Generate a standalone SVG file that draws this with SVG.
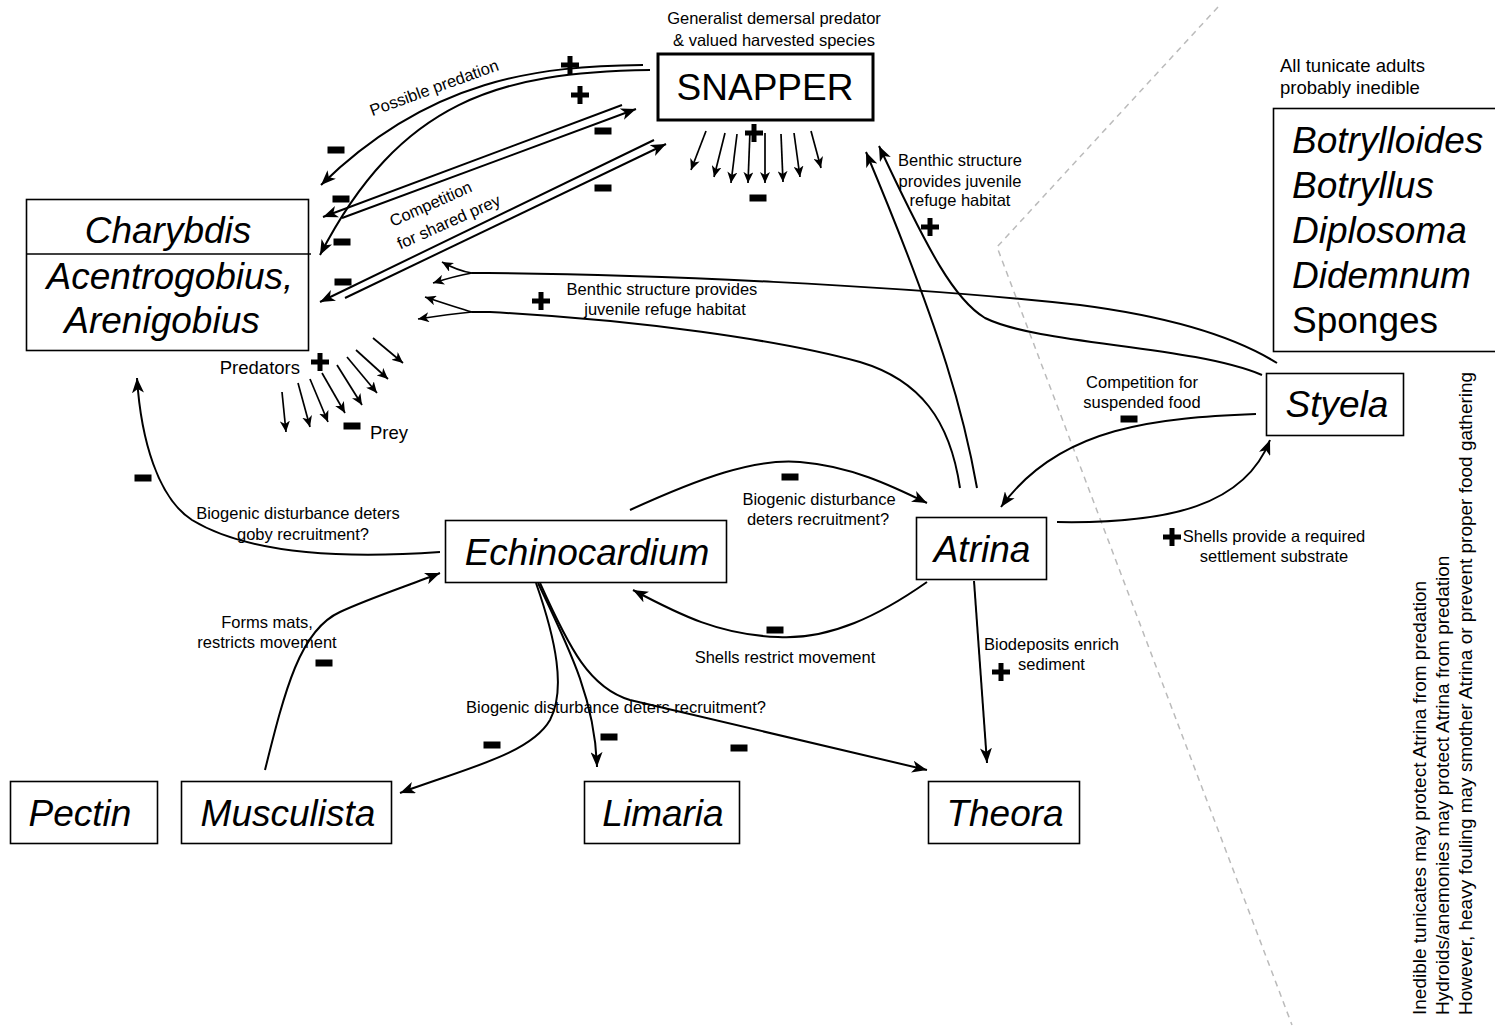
<svg xmlns="http://www.w3.org/2000/svg" xmlns:xlink="http://www.w3.org/1999/xlink" width="1495" height="1029" viewBox="0 0 1495 1029">
<style>
.box{fill:#fff;stroke:#000;stroke-width:1.6}
.big{font-family:"Liberation Sans",Arial,sans-serif;font-size:37px;fill:#000}
.it{font-style:italic}
.lbl{font-family:"Liberation Sans",Arial,sans-serif;font-size:16.5px;fill:#000}
.lbl2{font-family:"Liberation Sans",Arial,sans-serif;font-size:18.5px;fill:#000}
.vt{font-family:"Liberation Sans",Arial,sans-serif;font-size:19px;fill:#000}
.c{fill:none;stroke:#000;stroke-width:2}
.cs{fill:none;stroke:#000;stroke-width:1.7}
.a{marker-end:url(#ah)}
.as{marker-end:url(#ahs)}
.mid{text-anchor:middle}
</style>
<defs>
<marker id="ah" markerUnits="userSpaceOnUse" markerWidth="16" markerHeight="12" refX="15" refY="6" orient="auto"><path d="M0,0 L15,6 L0,12 L4,6 Z" fill="#000"/></marker>
<marker id="ahs" markerUnits="userSpaceOnUse" markerWidth="12" markerHeight="10" refX="11" refY="5" orient="auto"><path d="M0,0 L11,5 L0,10 L3,5 Z" fill="#000"/></marker>
<g id="plus"><rect x="-9" y="-2.5" width="18" height="5"/><rect x="-2.5" y="-9" width="5" height="18"/></g>
<rect id="minus" x="-8.5" y="-3.5" width="17" height="7"/>
</defs>
<rect width="1495" height="1029" fill="#fff"/>

<g id="divider">
<path d="M1218,7 L997,247 L1292,1025" fill="none" stroke="#bbb" stroke-width="1.5" stroke-dasharray="6,5"/>
</g>

<g id="connectors">
<path class="c a" d="M643,65 C540,66 430,78 321,185"/>
<path class="c a" d="M650,70 C500,72 400,100 320,255"/>
<path class="c a" d="M622,105 L323,217"/>
<path class="c a" d="M342,218 L636,109"/>
<path class="c a" d="M654,140 L320,302"/>
<path class="c a" d="M345,298 L666,144"/>
<g id="snapper-fan">
<path class="cs as" d="M706,131 L691,170"/>
<path class="cs as" d="M725,133 L714,177"/>
<path class="cs as" d="M737,134 L731,183"/>
<path class="cs as" d="M750,131 L748,183"/>
<path class="cs as" d="M765,133 L765,183"/>
<path class="cs as" d="M781,134 L783,182"/>
<path class="cs as" d="M794,133 L800,177"/>
<path class="cs as" d="M811,131 L821,168"/>
</g>
<g id="goby-fan">
<path class="cs as" d="M373,338 L403,363"/>
<path class="cs as" d="M356,350 L388,379"/>
<path class="cs as" d="M347,357 L377,393"/>
<path class="cs as" d="M337,365 L362,405"/>
<path class="cs as" d="M322,373 L345,413"/>
<path class="cs as" d="M310,379 L328,422"/>
<path class="cs as" d="M298,383 L310,427"/>
<path class="cs as" d="M282,392 L286,432"/>
</g>
<path class="c" d="M1277,363 C1240,340 1180,318 1080,305 C900,285 640,274 488,273 L472,273"/>
<path class="cs as" d="M472,273 Q458,271 442,262"/>
<path class="cs as" d="M472,273 Q455,276 433,283"/>
<path class="c" d="M960,488 C950,420 920,380 860,362 C780,340 640,320 490,312 L472,312"/>
<path class="cs as" d="M472,312 Q458,308 425,297"/>
<path class="cs as" d="M472,312 Q450,314 418,319"/>
<path class="c a" d="M977,488 C965,420 945,340 866,152"/>
<path class="c a" d="M1262,375 C1190,345 1040,345 985,318 C955,300 930,255 879,146"/>
<path class="c a" d="M630,510 C700,478 755,458 800,462 C850,466 890,485 927,503"/>
<path class="c a" d="M927,582 C880,615 830,640 778,637 C720,635 680,615 633,590"/>
<path class="c a" d="M440,552 C330,560 245,552 192,520 C158,498 141,440 137,378"/>
<path class="c a" d="M265,770 C285,690 300,630 340,612 C370,598 410,585 440,573"/>
<path class="c a" d="M536,583 C556,640 566,690 550,720 C530,755 460,770 400,793"/>
<path class="c a" d="M538,583 C570,650 595,700 597,767"/>
<path class="c a" d="M540,583 C570,650 590,688 630,700 L927,770"/>
<path class="c a" d="M974,581 L987,763"/>
<path class="c a" d="M1256,414 C1160,418 1060,425 1001,507"/>
<path class="c a" d="M1057,522 C1170,524 1245,505 1270,440"/>
</g>

<g id="signs">
<use xlink:href="#plus" x="570" y="65"/>
<use xlink:href="#plus" x="580" y="95"/>
<use xlink:href="#plus" x="754" y="133"/>
<use xlink:href="#plus" x="320" y="362"/>
<use xlink:href="#plus" x="541" y="301"/>
<use xlink:href="#plus" x="930" y="227"/>
<use xlink:href="#plus" x="1172" y="537"/>
<use xlink:href="#plus" x="1001" y="672"/>
<use xlink:href="#minus" x="336" y="150"/>
<use xlink:href="#minus" x="603" y="131"/>
<use xlink:href="#minus" x="341" y="199"/>
<use xlink:href="#minus" x="342" y="242"/>
<use xlink:href="#minus" x="603" y="188"/>
<use xlink:href="#minus" x="343" y="282"/>
<use xlink:href="#minus" x="758" y="198"/>
<use xlink:href="#minus" x="352" y="426"/>
<use xlink:href="#minus" x="143" y="478"/>
<use xlink:href="#minus" x="790" y="477"/>
<use xlink:href="#minus" x="775" y="630"/>
<use xlink:href="#minus" x="324" y="663"/>
<use xlink:href="#minus" x="492" y="745"/>
<use xlink:href="#minus" x="609" y="737"/>
<use xlink:href="#minus" x="739" y="748"/>
<use xlink:href="#minus" x="1129" y="419"/>
</g>

<g id="labels">
<text class="lbl mid" x="774" y="24">Generalist demersal predator</text>
<text class="lbl mid" x="774" y="46">&amp; valued harvested species</text>
<text class="lbl mid" x="436" y="93" transform="rotate(-20 436 93)">Possible predation</text>
<text class="lbl mid" x="433" y="209" transform="rotate(-24 433 209)">Competition</text>
<text class="lbl mid" x="451" y="227" transform="rotate(-24 451 227)">for shared prey</text>
<text class="lbl mid" x="662" y="295">Benthic structure provides</text>
<text class="lbl mid" x="665" y="315">juvenile refuge habitat</text>
<text class="lbl mid" x="960" y="166">Benthic structure</text>
<text class="lbl mid" x="960" y="187">provides juvenile</text>
<text class="lbl mid" x="960" y="206">refuge habitat</text>
<text class="lbl2" x="300" y="374" text-anchor="end">Predators</text>
<text class="lbl2" x="370" y="439">Prey</text>
<text class="lbl mid" x="1142" y="388">Competition for</text>
<text class="lbl mid" x="1142" y="408">suspended food</text>
<text class="lbl mid" x="1274" y="542">Shells provide a required</text>
<text class="lbl mid" x="1274" y="562">settlement substrate</text>
<text class="lbl mid" x="819" y="505">Biogenic disturbance</text>
<text class="lbl mid" x="818" y="525">deters recruitment?</text>
<text class="lbl mid" x="298" y="519">Biogenic disturbance deters</text>
<text class="lbl mid" x="303" y="540">goby recruitment?</text>
<text class="lbl mid" x="785" y="663">Shells restrict movement</text>
<text class="lbl mid" x="267" y="628">Forms mats,</text>
<text class="lbl mid" x="267" y="648">restricts movement</text>
<text class="lbl mid" x="616" y="713">Biogenic disturbance deters recruitment?</text>
<text class="lbl" x="984" y="650">Biodeposits enrich</text>
<text class="lbl" x="1018" y="670">sediment</text>
<text class="lbl2" x="1280" y="72">All tunicate adults</text>
<text class="lbl2" x="1280" y="94">probably inedible</text>
<text class="vt" transform="translate(1426,1015) rotate(-90)">Inedible tunicates may protect Atrina from predation</text>
<text class="vt" transform="translate(1449,1015) rotate(-90)">Hydroids/anemonies may protect Atrina from predation</text>
<text class="vt" transform="translate(1472,1015) rotate(-90)">However, heavy fouling may smother Atrina or prevent proper food gathering</text>
</g>

<g id="snapper">
<rect x="658" y="54" width="215" height="66" fill="#fff" stroke="#000" stroke-width="3"/>
<text class="big mid" x="765" y="100">SNAPPER</text>
</g>
<g id="charybdis-gobies">
<rect class="box" x="26.5" y="199.5" width="282" height="151"/>
<line x1="26" y1="254" x2="311" y2="254" stroke="#000" stroke-width="1.6"/>
<text class="big it mid" x="168" y="243">Charybdis</text>
<text class="big it mid" x="170" y="289">Acentrogobius,</text>
<text class="big it mid" x="162" y="333">Arenigobius</text>
</g>
<g id="echinocardium">
<rect class="box" x="445.5" y="520.5" width="281" height="62"/>
<text class="big it mid" x="587" y="565">Echinocardium</text>
</g>
<g id="atrina">
<rect class="box" x="916.5" y="517.5" width="130" height="62"/>
<text class="big it mid" x="982" y="562">Atrina</text>
</g>
<g id="styela">
<rect class="box" x="1266.5" y="373.5" width="137" height="62"/>
<text class="big it mid" x="1337" y="417">Styela</text>
</g>
<g id="tunicates">
<rect class="box" x="1273.5" y="108.5" width="228" height="243"/>
<text class="big it" x="1292" y="153">Botrylloides</text>
<text class="big it" x="1292" y="198">Botryllus</text>
<text class="big it" x="1292" y="243">Diplosoma</text>
<text class="big it" x="1292" y="288">Didemnum</text>
<text class="big" x="1292" y="333">Sponges</text>
</g>
<g id="pectin">
<rect class="box" x="10.5" y="781.5" width="147" height="62"/>
<text class="big it mid" x="80" y="826">Pectin</text>
</g>
<g id="musculista">
<rect class="box" x="181.5" y="781.5" width="210" height="62"/>
<text class="big it mid" x="288" y="826">Musculista</text>
</g>
<g id="limaria">
<rect class="box" x="584.5" y="781.5" width="155" height="62"/>
<text class="big it mid" x="663" y="826">Limaria</text>
</g>
<g id="theora">
<rect class="box" x="928.5" y="781.5" width="151" height="62"/>
<text class="big it mid" x="1005" y="826">Theora</text>
</g>
</svg>
